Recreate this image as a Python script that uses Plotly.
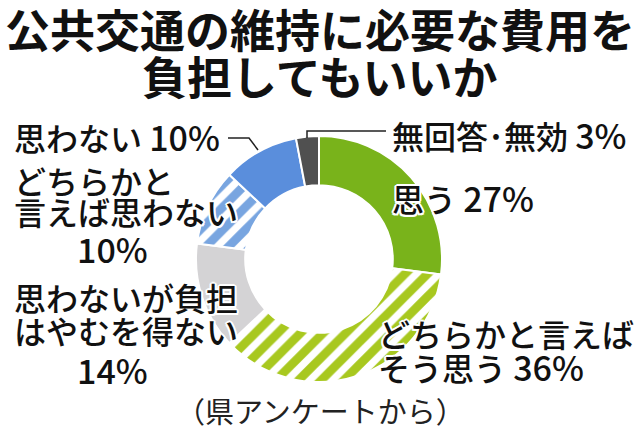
import plotly.graph_objects as go

# ---- data ----
categories = ["思う", "どちらかと言えばそう思う", "思わないが負担はやむを得ない",
              "どちらかと言えば思わない", "思わない", "無回答・無効"]
values = [27, 36, 14, 10, 10, 3]
colors = ["#79b31b", "#a8c81f", "#d4d3d5", "#78a5e0", "#5a8edc", "#505050"]
patterns = ["", "/", "", "/", "", ""]
title_lines = ["公共交通の維持に必要な費用を", "負担してもいいか"]
source = "（県アンケートから）"

W, H = 640, 436
FONT = "Noto Sans CJK JP"

def px(x):
    return x / W

def py(y):
    return 1 - y / H

cx, cy, r = 319, 259, 123

fig = go.Figure(go.Pie(
    labels=categories, values=values, sort=False, direction="clockwise",
    rotation=0, hole=0.6, textinfo="none", hoverinfo="label+percent",
    marker=dict(colors=colors, line=dict(color="white", width=2),
                pattern=dict(shape=patterns, size=16, solidity=0.55)),
    domain=dict(x=[px(cx - r), px(cx + r)], y=[py(cy + r), py(cy - r)]),
    showlegend=False,
))

halo = ("white 2px 0px 0px, white -2px 0px 0px, white 0px 2px 0px, white 0px -2px 0px, "
        "white 1.5px 1.5px 0px, white -1.5px -1.5px 0px, white 1.5px -1.5px 0px, white -1.5px 1.5px 0px")

def num(s):
    return f"<span style='font-size:34px'>{s}</span>"

labels = [
    ("思わない " + num("10%"), 12, 136),
    ("無回答･無効 " + num("3%"), 390, 134),
    ("思う " + num("27%"), 390, 197),
    ("どちらかと言えば", 376, 333),
    ("そう思う " + num("36%"), 376, 366),
    ("どちらかと", 12, 180),
    ("言えば思わない", 12, 211),
    (num("10%"), 75, 249),
    ("思わないが負担", 12, 297),
    ("はやむを得ない", 12, 330),
    (num("14%"), 75, 369),
]

annotations = []
for i, t in enumerate(title_lines):
    annotations.append(dict(text=t, x=0.5, y=py(29 + 46 * i), xref="paper", yref="paper",
                            xanchor="center", yanchor="middle", showarrow=False,
                            font=dict(family=FONT, size=45, color="#111111", weight="bold")))
for t, x, y in labels:
    annotations.append(dict(text=t, x=px(x), y=py(y), xref="paper", yref="paper",
                            xanchor="left", yanchor="middle", showarrow=False,
                            font=dict(family=FONT, size=32, color="#111111", weight=500,
                                      shadow=halo)))
annotations.append(dict(text=source, x=0.5, y=py(410), xref="paper", yref="paper",
                        xanchor="center", yanchor="middle", showarrow=False,
                        font=dict(family=FONT, size=29, color="#222222")))

def path(pts):
    return "M " + " L ".join(f"{px(a)},{py(b)}" for a, b in pts)

shapes = [
    dict(type="path", xref="paper", yref="paper", path=path([(228, 138), (249, 138), (258, 150)]),
         line=dict(color="#222222", width=1.5)),
    dict(type="path", xref="paper", yref="paper", path=path([(386, 131), (307, 131), (307, 138)]),
         line=dict(color="#222222", width=1.5)),
]

fig.update_layout(width=W, height=H, margin=dict(l=0, r=0, t=0, b=0),
                  paper_bgcolor="white", plot_bgcolor="white",
                  annotations=annotations, shapes=shapes)

fig.write_html("out.html")
